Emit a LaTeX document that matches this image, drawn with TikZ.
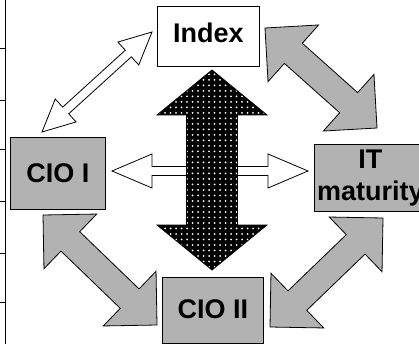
\documentclass[tikz,border=0pt]{standalone}
\usepackage{fontspec}
\setmainfont{Liberation Sans}
\usetikzlibrary{calc,patterns.meta}

% Double-headed block arrow between two named points.
% #1 style, #2 tip A, #3 tip B, #4 shaft half-width, #5 head half-width, #6 head length
\newcommand\dblarrow[6]{%
  \coordinate (ahP) at ($(#2)!#6!(#3)$);
  \coordinate (ahQ) at ($(#3)!#6!(#2)$);
  \draw[#1] (#2)
    -- ($(ahP)!#5!90:(#3)$) -- ($(ahP)!#4!90:(#3)$)
    -- ($(ahQ)!#4!-90:(#2)$) -- ($(ahQ)!#5!-90:(#2)$)
    -- (#3)
    -- ($(ahQ)!#5!90:(#2)$) -- ($(ahQ)!#4!90:(#2)$)
    -- ($(ahP)!#4!-90:(#3)$) -- ($(ahP)!#5!-90:(#3)$)
    -- cycle;
}

\tikzset{
  box/.style={draw=black, line width=0.8pt, anchor=north west, inner sep=0pt,
    font=\fontsize{27}{32}\selectfont\bfseries, align=center},
  whitebox/.style={box, fill=white},
  graybox/.style={box, fill=black!30},
  grayarrow/.style={draw=black, line width=0.8pt, fill=black!30, line join=miter},
  whitearrow/.style={draw=black, line width=0.8pt, fill=white, line join=miter},
  darkarrow/.style={draw=black, line width=0.8pt, preaction={fill=black},
    pattern={Dots[distance=5.5pt, radius=1pt]}, pattern color=white},
}

\begin{document}
\begin{tikzpicture}[x=1pt, y=-1pt]
  \clip (0,0) rectangle (419,344);
  \fill[white] (0,0) rectangle (419,344);

  % frame edge with ticks on the left
  \draw[line width=0.8pt] (5,0) -- (5,344);
  \foreach \ty in {48,100,149,201,253,302}
    \draw[line width=0.6pt] (0,\ty) -- (5,\ty);

  % boxes
  \node[whitebox, minimum width=102pt, minimum height=60pt, text height=19pt, text depth=7pt]
    (index) at (157,6) {Index};
  \node[graybox, minimum width=95pt, minimum height=72pt, text height=19pt, text depth=0pt]
    (cio1) at (10,137) {CIO I};
  \node[graybox, minimum width=112pt, minimum height=67pt]
    (itm) at (314,144) {IT\\maturity};
  \node[graybox, minimum width=101pt, minimum height=66pt, text height=19pt, text depth=3pt]
    (cio2) at (162,277) {CIO II};

  % arrow tips
  \coordinate (wdA) at (152,32);
  \coordinate (wdB) at (42,132);
  \coordinate (whA) at (112,171);
  \coordinate (whB) at (308,171);
  \coordinate (dkA) at (212,70);
  \coordinate (dkB) at (212,270);
  \coordinate (g1A) at (265,28);
  \coordinate (g1B) at (377,128);
  \coordinate (g2A) at (43,215);
  \coordinate (g2B) at (157,325);
  \coordinate (g3A) at (383,218);
  \coordinate (g3B) at (270,327);

  % Index <-> CIO I
  \dblarrow{whitearrow}{wdA}{wdB}{4.5pt}{15.5pt}{32pt}
  % CIO I <-> IT maturity
  \dblarrow{whitearrow}{whA}{whB}{4.5pt}{17pt}{40pt}
  % Index <-> CIO II
  \dblarrow{darkarrow}{dkA}{dkB}{25.5pt}{55pt}{45pt}
  % Index <-> IT maturity
  \dblarrow{grayarrow}{g1A}{g1B}{13.5pt}{38pt}{38pt}
  % CIO I <-> CIO II
  \dblarrow{grayarrow}{g2A}{g2B}{13.5pt}{38pt}{38pt}
  % IT maturity <-> CIO II
  \dblarrow{grayarrow}{g3A}{g3B}{13.5pt}{38pt}{38pt}
\end{tikzpicture}
\end{document}
